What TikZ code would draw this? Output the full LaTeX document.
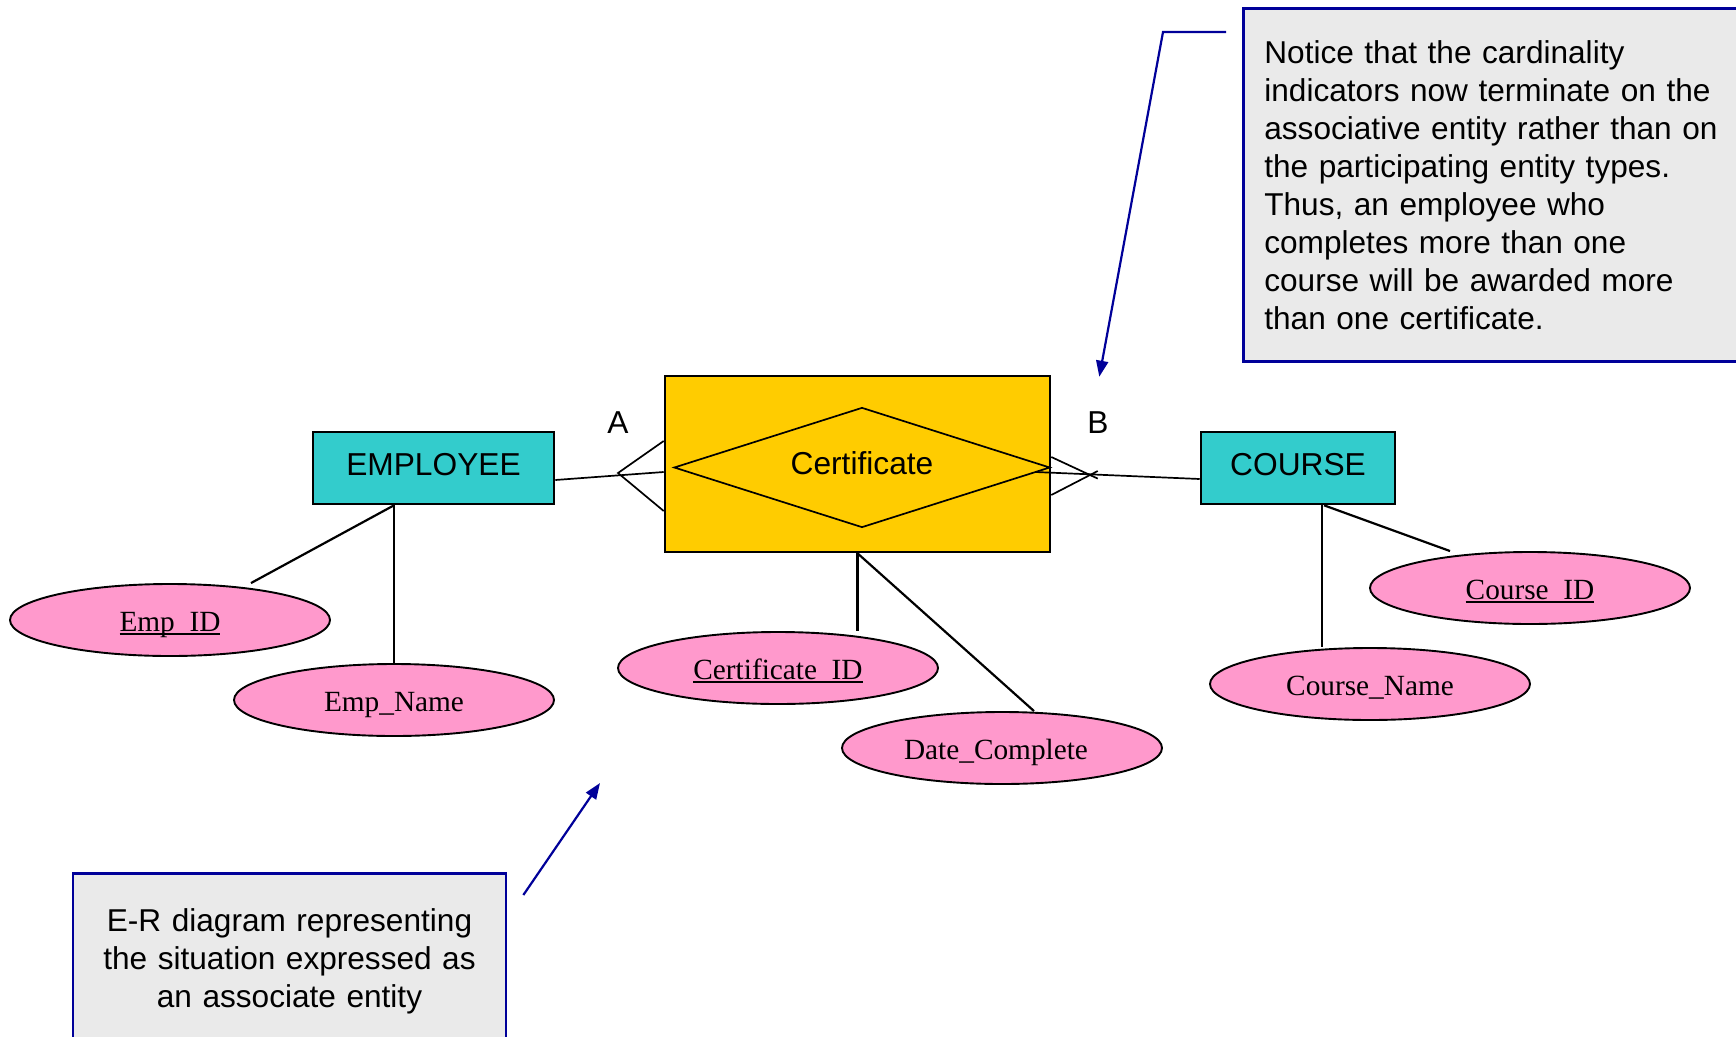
\documentclass[tikz,border=0pt]{standalone}
\usepackage{fontspec}
\setmainfont{Liberation Sans}
\newfontfamily\timesf{Liberation Serif}
\usetikzlibrary{shapes.geometric,arrows.meta,calc}
\definecolor{entcyan}{HTML}{33CCCC}
\definecolor{certyellow}{HTML}{FFCC00}
\definecolor{attrpink}{HTML}{FF99CC}
\definecolor{notegray}{HTML}{EAEAEA}
\definecolor{noteblue}{HTML}{000099}
\newcommand\ulid[1]{\setbox0\hbox{#1}\rlap{\rule[-3.7pt]{\wd0}{2pt}}\box0}
\tikzset{
  entity/.style={draw=black, line width=2.6pt, fill=entcyan, minimum height=72pt, inner sep=0pt,
    font=\fontsize{31.7}{38}\selectfont, text height=23pt, text depth=9pt},
  attr/.style={ellipse, draw=black, line width=1.9pt, fill=attrpink, minimum width=320pt,
    minimum height=72pt, inner sep=0pt, font=\timesf\fontsize{29.3}{35}\selectfont,
    text height=22pt, text depth=0pt},
  conn/.style={draw=black, line width=2.2pt},
  crow/.style={draw=black, line width=1.7pt},
  callout/.style={draw=noteblue, line width=2.7pt, fill=notegray, font=\fontsize{31.6}{38}\selectfont},
  leader/.style={draw=noteblue, line width=2.2pt, -{Triangle[length=16pt,width=12pt]}},
  cardlabel/.style={font=\fontsize{31.7}{38}\selectfont, inner sep=0pt, anchor=base}
}
\begin{document}
\begin{tikzpicture}[x=1pt,y=-1pt]
\useasboundingbox (0,0) rectangle (1736,1036);

% callouts
\node[callout, anchor=north west, inner xsep=21pt, text width=500pt, align=left, minimum height=353pt] (note) at (1242,7)
 {Notice that the cardinality\\indicators now terminate on the\\associative entity rather than on\\the participating entity types.\\Thus, an employee who\\completes more than one\\course will be awarded more\\than one certificate.};
\node[callout, anchor=north, inner xsep=10pt, inner ysep=35pt, text width=413pt, align=center] (note2) at (289.5,872)
 {E-R diagram representing\\the situation expressed as\\an associate entity};

% entities
\node[entity, minimum width=241pt] (emp) at (433.5,468) {EMPLOYEE};
\node[entity, minimum width=194pt] (course) at (1298,468) {COURSE};
\node[draw=black, line width=2.6pt, fill=certyellow, minimum width=385pt, minimum height=176pt, inner sep=0pt] (cert) at (857.5,464) {};
\node[diamond, draw=black, line width=1.7pt, minimum width=376pt, minimum height=120pt, inner sep=0pt, aspect=3.13,
  font=\fontsize{31.7}{38}\selectfont, text height=23pt, text depth=9pt] (rel) at (862,467.5) {Certificate};

% cardinality labels
\node[cardlabel] (la) at (618,433) {A};
\node[cardlabel] (lb) at (1098,433) {B};

% attributes
\node[attr] (empid) at (170,620) {\ulid{Emp\_ID}};
\node[attr] (empname) at (394,700) {Emp\_Name};
\node[attr] (certid) at (778,668) {\ulid{Certificate\_ID}};
\node[attr] (datec) at (1002,748) {\hspace*{-12pt}Date\_Complete};
\node[attr] (cid) at (1530,588) {\ulid{Course\_ID}};
\node[attr] (cname) at (1370,684) {Course\_Name};

% relationship connectors with crow's feet
\coordinate (cfa) at (618,473);
\draw[crow] ($(emp.east)+(0,12)$) -- ($(cert.west)+(0,8)$);
\draw[crow] ($(cert.west)+(0,-23)$) -- (cfa) -- ($(cert.west)+(0,47)$);

\coordinate (cfb) at (1090,475);
\coordinate (b1) at ($(cert.east)+(0,-7)$);
\coordinate (b2) at ($(cert.east)+(0,31)$);
\draw[crow] ($(cert.east)+(-16,8)$) -- ($(course.west)+(0,11)$);
\draw[crow] (b1) -- ($(b1)!1.2!(cfb)$);
\draw[crow] (b2) -- ($(b2)!1.2!(cfb)$);

% attribute connectors
\coordinate (ea) at (empname.north |- emp.south);
\draw[conn] (ea) -- (empname.north);
\draw[conn] (ea) -- ($(empid.north)+(81,0)$);
\draw[conn] (cert.south) -- (cert.south |- certid.north);
\draw[conn] (cert.south) -- ($(datec.north)+(32,0)$);
\coordinate (cs) at ($(course.south)+(24,0)$);
\draw[conn] (cs) -- (cs |- cname.north);
\draw[conn] ($(course.south)+(26,0)$) -- ($(cid.north)+(-80,0)$);

% leaders
\coordinate (l0) at ($(note.north west)+(-16,25)$);
\coordinate (l1) at (1163,32);
\coordinate (t1) at ($(cert.north east)+(48,2)$);
\draw[leader] (l0) -- (l1) -- (t1);
\coordinate (l2) at ($(note2.north east)+(16,23)$);
\coordinate (t2) at (600,783);
\draw[leader] (l2) -- (t2);
\end{tikzpicture}
\end{document}
